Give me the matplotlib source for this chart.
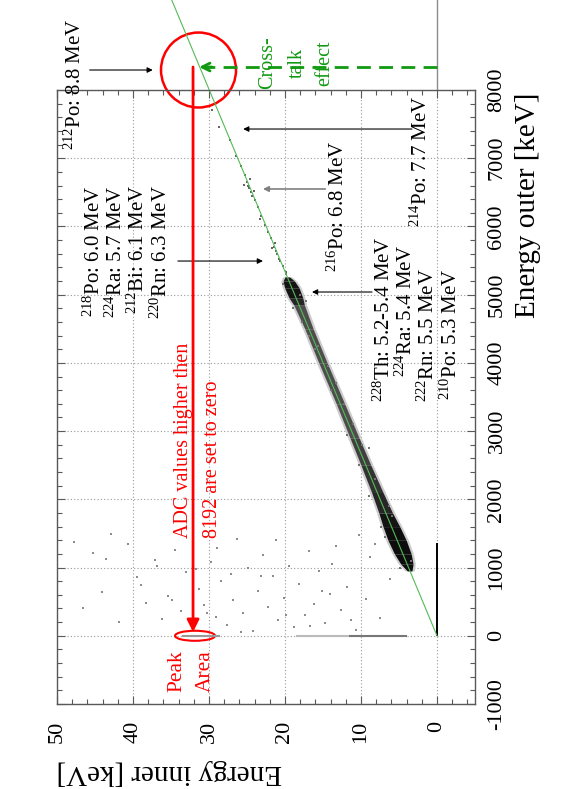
import numpy as np
import matplotlib.pyplot as plt
from matplotlib.patches import Ellipse

plt.rcParams['font.family'] = ['Liberation Serif', 'DejaVu Serif']
plt.rcParams['mathtext.fontset'] = 'custom'
plt.rcParams['mathtext.rm'] = 'Liberation Serif'
plt.rcParams['mathtext.it'] = 'Liberation Serif:italic'

# axis ticks (Energy inner along the horizontal, Energy outer along the vertical)
inner_ticks = [50, 40, 30, 20, 10, 0]
inner_labels = ['50', '40', '30', '20', '10', '0']
outer_ticks = [-1000, 0, 1000, 2000, 3000, 4000, 5000, 6000, 7000, 8000]
outer_labels = ['-1000', '0', '1000', '2000', '3000', '4000', '5000', '6000', '7000', '8000']

# main band of events: outer energy, inner centre, width, grey level
band_outer = [950, 1050, 1200, 1400, 1600, 1800, 2100, 2500, 2900, 3400, 4000, 4500, 4850, 4950, 5100, 5200, 5260]
band_center = [3.6, 3.95, 4.5, 5.25, 6.0, 6.75, 7.85, 9.35, 10.85, 12.7, 15.0, 16.85, 18.15, 18.55, 19.1, 19.5, 19.7]
band_width = [0.6, 1.6, 2.2, 2.4, 2.2, 1.8, 1.5, 1.3, 1.2, 1.1, 1.1, 1.1, 1.4, 1.8, 1.9, 1.5, 0.6]
band_grey = [0.05, 0.05, 0.05, 0.05, 0.08, 0.15, 0.2, 0.25, 0.3, 0.3, 0.3, 0.3, 0.15, 0.08, 0.08, 0.1, 0.2]

# sparse events above the main band
tail_inner = [19.9, 20.3, 20.6, 21.0, 21.2, 21.5, 21.3, 21.8, 22.2, 22.6, 23.1, 23.6, 24.0,
              24.3, 24.5, 24.7, 24.9, 25.0, 24.6, 25.3, 25.8, 26.4, 27.2, 28.7, 29.6,
              20.8, 21.7, 24.1, 25.4, 23.3]
tail_outer = [5330, 5420, 5500, 5600, 5640, 5700, 5760, 5830, 5920, 6020, 6150, 6280, 6390,
              6450, 6500, 6560, 6600, 6650, 6700, 6760, 6880, 7030, 7260, 7460, 7700,
              5520, 5690, 6520, 6610, 6110]

# events just beside the band
fringe_inner = [4.9, 6.9, 7.4, 3.4, 8.9, 6.3, 10.3, 9.0, 11.8, 12.2, 13.9, 14.4, 16.1, 17.8, 18.0, 20.3, 17.2, 19.9,
                5.9, 8.2, 9.9, 11.1, 13.3, 15.6, 16.9, 18.9]
fringe_outer = [1000, 1450, 1600, 1100, 2050, 1900, 2500, 2750, 2950, 3400, 3600, 3950, 4200, 4600, 5000, 5150, 4900, 5300,
                1750, 2300, 2800, 3100, 3700, 4250, 4400, 4800]

# background events at low outer energy
noise_inner = [6.2, 7.5, 8.8, 9.4, 10.7, 11.9, 12.6, 13.3, 14.1, 14.8, 15.5, 16.2, 16.9, 17.4, 18.2,
               18.8, 19.5, 20.1, 20.9, 21.6, 22.3, 22.9, 23.6, 24.2, 24.9, 25.5, 26.3, 26.9, 27.6, 28.4,
               29.1, 29.8, 30.6, 31.3, 32.2, 33.0, 33.7, 34.5, 35.4, 36.2, 37.1, 38.3, 39.5, 40.6, 41.8,
               42.9, 44.1, 45.3, 46.6, 47.8,
               8.1, 10.2, 13.8, 16.7, 19.9, 23.1, 25.8, 28.9, 31.7, 34.9, 38.9, 43.5, 11.3, 15.1, 21.2,
               27.1, 30.2, 36.8]
noise_outer = [830, 260, 1150, 540, 90, 720, 380, 1310, 610, 180, 950, 470, 1240, 300, 760,
               130, 1020, 560, 230, 880, 420, 1190, 650, 70, 990, 340, 1420, 520, 160, 800,
               280, 1080, 450, 690, 150, 930, 360, 1260, 580, 240, 1110, 480, 860, 1350, 200,
               1490, 640, 1220, 410, 1380,
               1340, 1470, 1050, 140, 300, 870, 60, 1290, 980, 520, 740, 1130, 230, 660, 1400,
               900, 330, 1030]

# events with outer = 0 (ADC overflow) and inner = 0
zero_outer_from = [4.0, 11.6, 28.5]
zero_outer_to = [11.6, 18.5, 33.5]
zero_outer_grey = ['#777777', '#bbbbbb', '#999999']
zero_inner_top = 1360

# calibration line outer = slope * inner
line_slope = 267.0

fig = plt.figure(figsize=(5.61, 7.89), dpi=100)
ax = fig.add_axes([57 / 561, 85 / 789, 418 / 561, 614 / 789])
ax.set_xlim(50, -5)
ax.set_ylim(-1000, 8000)

# band: light fringe first, then core
for i in range(len(band_outer) - 1):
    o = band_outer[i:i + 2]
    c = np.array(band_center[i:i + 2])
    w = np.array(band_width[i:i + 2])
    ax.fill_betweenx(o, c - w / 2 - 0.3, c + w / 2 + 0.3, color='0.8', lw=0)
for i in range(len(band_outer) - 1):
    o = band_outer[i:i + 2]
    c = np.array(band_center[i:i + 2])
    w = np.array(band_width[i:i + 2])
    g = str(band_grey[i])
    ax.fill_betweenx(o, c - w / 2, c + w / 2, color=g, lw=0)

ax.scatter(tail_inner, tail_outer, s=1.2, marker='s', color='0.4', lw=0)
ax.scatter(fringe_inner, fringe_outer, s=1.2, marker='s', color='0.45', lw=0)
ax.scatter(noise_inner, noise_outer, s=1.0, marker='s', color='0.55', lw=0)
for a, b, g in zip(zero_outer_from, zero_outer_to, zero_outer_grey):
    ax.plot([a, b], [0, 0], color=g, lw=1.5, solid_capstyle='butt')
ax.plot([0, 0], [0, zero_inner_top], color='k', lw=1.4, solid_capstyle='butt')

# grid, ticks, frame
ax.set_xticks(inner_ticks)
ax.set_xticklabels(inner_labels)
ax.set_xticks(np.arange(-4, 51, 2), minor=True)
ax.set_yticks(outer_ticks)
ax.set_yticklabels(outer_labels)
ax.set_yticks(np.arange(-1000, 8001, 200), minor=True)
ax.grid(True, which='major', color='0.6', lw=0.8, ls=(0, (1, 2)))
ax.set_axisbelow(True)
ax.yaxis.tick_right()
ax.tick_params(which='both', direction='in', top=True, bottom=True, left=True, right=True,
               color='0.35', labelsize=16)
ax.tick_params(which='major', length=6, width=0.8)
ax.tick_params(which='minor', length=3.5, width=0.8)
ax.tick_params(axis='x', labelrotation=90, pad=12)
ax.tick_params(axis='y', labelrotation=90, pad=9)
for lbl in ax.get_yticklabels():
    lbl.set_va('center')
for sp in ax.spines.values():
    sp.set_color('0.35')
    sp.set_linewidth(1.0)

ax.text(1.127, 0.995, 'Energy outer [keV]', transform=ax.transAxes, rotation=90,
        ha='center', va='top', fontsize=21)
ax.text(0.0, -0.111, 'Energy inner [keV]', transform=ax.transAxes, rotation=180,
        ha='left', va='center', fontsize=21)

# calibration line, extended past the frame
ax.plot([0, 9320 / line_slope], [0, 9320], color='#55bb55', lw=0.8, clip_on=False)
ax.plot([0, 0], [8000, 9320], color='0.55', lw=1.0, clip_on=False)

# black arrows and isotope labels
black_arrow = dict(arrowstyle='-|>', color='k', lw=0.8, mutation_scale=8, shrinkA=0, shrinkB=0)
grey_arrow = dict(arrowstyle='-|>', color='0.5', lw=1.2, mutation_scale=8, shrinkA=0, shrinkB=0)
ax.annotate('', xy=(37.4, 8293), xytext=(45.7, 8293), arrowprops=black_arrow, annotation_clip=False)
ax.annotate('', xy=(25.5, 7428), xytext=(3.3, 7428), arrowprops=black_arrow, annotation_clip=False)
ax.annotate('', xy=(22.9, 6549), xytext=(14.7, 6549), arrowprops=grey_arrow, annotation_clip=False)
ax.annotate('', xy=(16.45, 5039), xytext=(8.55, 5039), arrowprops=black_arrow, annotation_clip=False)
ax.annotate('', xy=(22.9, 5493), xytext=(34.1, 5493), arrowprops=black_arrow, annotation_clip=False)

fs = 15
ax.text(47.6, 7120, r'$^{212}$Po: 8.8 MeV', rotation=90, ha='center', va='bottom', fontsize=fs, clip_on=False)
ax.text(2.1, 5992, r'$^{214}$Po: 7.7 MeV', rotation=90, ha='center', va='bottom', fontsize=fs, clip_on=False)
ax.text(13.0, 5332, r'$^{216}$Po: 6.8 MeV', rotation=90, ha='center', va='bottom', fontsize=fs, clip_on=False)
ax.text(6.97, 3427, r'$^{228}$Th: 5.2-5.4 MeV', rotation=90, ha='center', va='bottom', fontsize=fs)
ax.text(4.08, 3793, r'$^{224}$Ra: 5.4 MeV', rotation=90, ha='center', va='bottom', fontsize=fs)
ax.text(1.18, 3427, r'$^{222}$Rn: 5.5 MeV', rotation=90, ha='center', va='bottom', fontsize=fs)
ax.text(-1.84, 3456, r'$^{210}$Po: 5.3 MeV', rotation=90, ha='center', va='bottom', fontsize=fs)
ax.text(45.13, 6607, r'$^{218}$Po: 6.0 MeV', rotation=90, ha='center', va='top', fontsize=fs)
ax.text(42.24, 6607, r'$^{224}$Ra: 5.7 MeV', rotation=90, ha='center', va='top', fontsize=fs)
ax.text(39.34, 6607, r'$^{212}$Bi: 6.1 MeV', rotation=90, ha='center', va='top', fontsize=fs)
ax.text(36.32, 6607, r'$^{220}$Rn: 6.3 MeV', rotation=90, ha='center', va='top', fontsize=fs)

# red annotations: overflow events moved to zero
ax.add_patch(Ellipse((31.38, 8293), width=9.87, height=1099, fill=False, ec='red', lw=1.8, clip_on=False))
ax.annotate('', xy=(32.1, 55), xytext=(32.1, 8337),
            arrowprops=dict(arrowstyle='-|>', color='red', lw=2, mutation_scale=18, shrinkA=0, shrinkB=0),
            annotation_clip=False)
ax.add_patch(Ellipse((31.84, 0), width=5.26, height=147, fill=False, ec='red', lw=1.5, clip_on=False))
ax.text(34.2, -209, 'Peak', rotation=90, ha='center', va='top', fontsize=15.5, color='red')
ax.text(30.5, -209, 'Area', rotation=90, ha='center', va='top', fontsize=15.5, color='red')
ax.text(33.42, 1433, 'ADC values higher then', rotation=90, ha='center', va='bottom', fontsize=14.5, color='red')
ax.text(29.6, 1433, '8192 are set to zero', rotation=90, ha='center', va='bottom', fontsize=14.5, color='red')

# green annotations: cross-talk
ax.plot([0, 30.2], [8337, 8337], color='#119911', lw=2, ls=(0, (5, 3)), clip_on=False)
ax.annotate('', xy=(31.3, 8337), xytext=(29.6, 8337),
            arrowprops=dict(arrowstyle='->', color='#119911', lw=2, mutation_scale=14, shrinkA=0, shrinkB=0),
            annotation_clip=False)
ax.text(22.24, 8396, 'Cross-', rotation=90, ha='center', va='center', fontsize=14.5, color='#119911', clip_on=False)
ax.text(18.42, 8396, 'talk', rotation=90, ha='center', va='center', fontsize=14.5, color='#119911', clip_on=False)
ax.text(14.74, 8396, 'effect', rotation=90, ha='center', va='center', fontsize=14.5, color='#119911', clip_on=False)

fig.savefig('out.png', dpi=100)
